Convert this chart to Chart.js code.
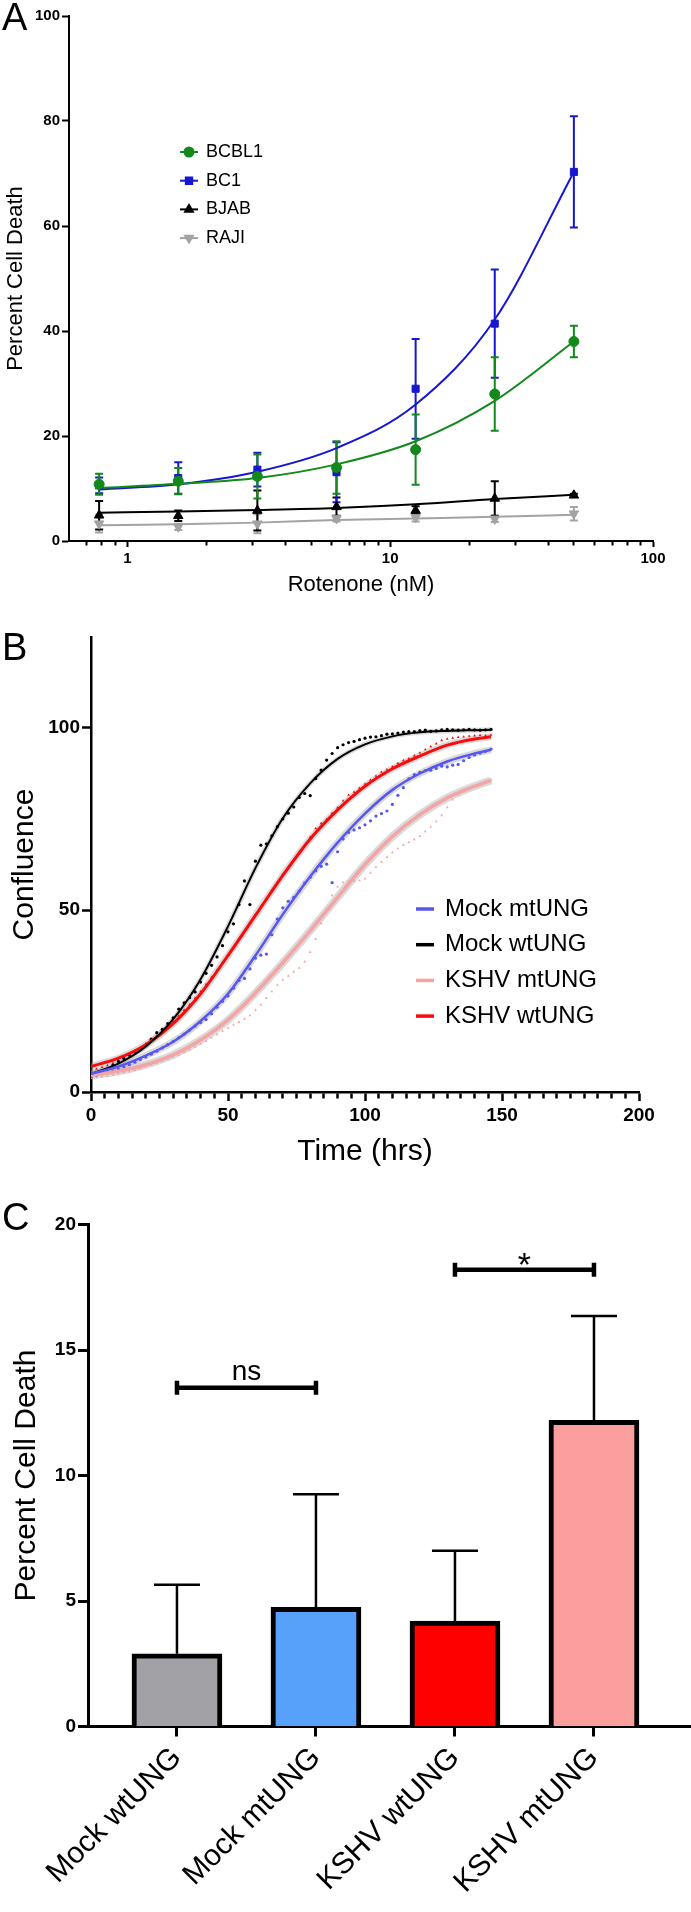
<!DOCTYPE html>
<html>
<head>
<meta charset="utf-8">
<script src="https://cdn.jsdelivr.net/npm/chart.js@4.4.1/dist/chart.umd.min.js"></script>
<style>
  html, body { margin: 0; padding: 0; background: #fff; }
  #page { position: relative; width: 691px; height: 1912px; overflow: hidden; font-family: "Liberation Sans", Arial, sans-serif; }
  canvas { position: absolute; left: 0; }
  .panel-label { position: absolute; left: 2px; font-size: 38px; line-height: 38px; color: #000; }
</style>
</head>
<body>
<div id="page">
  <canvas id="chartA" width="691" height="610" style="top:0"></canvas>
  <canvas id="chartB" width="691" height="570" style="top:610px"></canvas>
  <canvas id="chartC" width="691" height="732" style="top:1180px"></canvas>
  <div class="panel-label" style="top:-2px">A</div>
  <div class="panel-label" style="top:628px">B</div>
  <div class="panel-label" style="top:1198px">C</div>
</div>
<script>
// ---------- Panel A: rotenone dose response ----------
const rotenoneDoses = [0.78125, 1.5625, 3.125, 6.25, 12.5, 25, 50];
const doseTicks = [0.7, 0.8, 0.9, 1, 2, 3, 4, 5, 6, 7, 8, 9, 10, 20, 30, 40, 50, 60, 70, 80, 90, 100];
const doseMajorTicks = [1, 10, 100];

const bcbl1Death = [10.8, 11.4, 12.3, 14.0, 17.4, 28.0, 38.0];
const bcbl1Sd    = [2.0, 2.5, 4.2, 5.0, 6.7, 7.0, 3.0];
const bcbl1Fit   = [10.1, 10.9, 12.0, 14.6, 19.0, 26.7, 38.0];

const bc1Death = [10.6, 12.0, 13.6, 13.1, 29.0, 41.4, 70.3];
const bc1Sd    = [1.5, 3.0, 3.2, 5.7, 9.5, 10.3, 10.6];
const bc1Fit   = [9.8, 10.8, 13.2, 17.7, 26.0, 42.2, 70.3];

const bjabDeath = [4.9, 4.8, 5.8, 6.5, 5.8, 8.1, 8.7];
const bjabSd    = [2.7, 1.0, 3.8, 1.8, 0.8, 3.3, 0.3];
const bjabFit   = [5.4, 5.6, 5.9, 6.3, 7.0, 8.0, 8.8];

const rajiDeath = [3.3, 2.7, 3.3, 4.3, 4.5, 4.2, 5.2];
const rajiSd    = [1.7, 0.6, 1.8, 0.6, 0.8, 0.6, 1.3];
const rajiFit   = [3.0, 3.2, 3.5, 4.0, 4.3, 4.6, 5.0];

// ---------- Panel B: confluence over time ----------
const hours = [0, 2, 4, 6, 8, 10, 12, 14, 16, 18,
  20, 22, 24, 26, 28, 30, 32, 34, 36, 38,
  40, 42, 44, 46, 48, 50, 52, 54, 56, 58,
  60, 62, 64, 66, 68, 70, 72, 74, 76, 78,
  80, 82, 84, 86, 88, 90, 92, 94, 96, 98,
  100, 102, 104, 106, 108, 110, 112, 114, 116, 118,
  120, 122, 124, 126, 128, 130, 132, 134, 136, 138,
  140, 142, 144, 146];

const mockMtDots = [4.3, 4.6, 5.0, 5.3, 5.8, 6.3, 6.9, 7.5, 8.2, 8.9,
  9.6, 10.4, 11.2, 12.1, 13.0, 13.9, 14.9, 15.9, 17.0, 18.1,
  19.1, 19.9, 21.5, 23.3, 24.9, 26.4, 28.5, 30.6, 31.2, 33.8,
  36.8, 37.6, 37.9, 43.2, 47.5, 50.6, 52.4, 53.5, 55.2, 57.4,
  59.0, 60.8, 62.0, 62.6, 57.5, 66.0, 69.5, 71.3, 72.0, 72.6,
  73.4, 74.5, 75.8, 76.5, 77.2, 79.0, 81.5, 83.6, 86.0, 87.2,
  87.8, 88.3, 88.4, 88.9, 89.5, 89.3, 89.8, 90.0, 91.0, 91.9,
  92.6, 93.1, 93.6, 94.2];
const mockWtDots = [4.6, 5.0, 5.6, 6.3, 7.4, 8.4, 9.2, 10.1, 11.0, 11.7,
  12.9, 14.5, 16.3, 17.2, 18.8, 20.4, 22.8, 24.5, 25.9, 27.5,
  30.2, 32.6, 34.8, 37.1, 40.2, 44.0, 46.2, 51.5, 58.0, 51.5,
  63.4, 67.8, 68.2, 70.4, 72.9, 75.0, 76.6, 78.3, 80.9, 82.0,
  81.4, 86.1, 88.4, 91.2, 93.0, 94.6, 95.4, 96.0, 96.3, 96.8,
  97.2, 97.5, 97.6, 97.9, 98.3, 98.4, 98.6, 98.9, 99.0, 99.0,
  99.3, 99.4, 99.1, 99.2, 99.5, 99.6, 99.5, 99.4, 99.5, 99.6,
  99.5, 99.4, 99.5, 99.6];
const kshvMtDots = [3.8, 4.0, 4.2, 4.4, 4.7, 5.0, 5.3, 5.6, 6.0, 6.4,
  6.9, 7.4, 7.9, 8.5, 9.0, 9.6, 10.2, 10.9, 11.6, 12.4,
  13.2, 14.0, 14.9, 15.8, 16.8, 17.6, 18.5, 19.2, 20.1, 21.0,
  22.5, 24.0, 25.8, 27.6, 29.4, 30.8, 31.9, 33.0, 34.1, 35.8,
  38.4, 42.0, 46.3, 50.2, 54.0, 56.4, 57.6, 57.9, 58.0, 58.1,
  58.6, 60.2, 61.8, 63.2, 64.5, 65.8, 66.9, 67.8, 68.6, 69.4,
  70.3, 71.6, 72.8, 74.3, 76.0, 78.2, 80.3, 81.6, 82.5, 83.3,
  84.0, 84.7, 85.3, 85.8];
const kshvWtDots = [6.0, 6.3, 6.8, 7.3, 8.0, 8.7, 9.5, 10.4, 11.3, 12.2,
  13.3, 14.3, 15.4, 16.6, 17.9, 19.4, 20.9, 22.5, 24.0, 25.8,
  27.6, 29.6, 31.6, 33.5, 35.6, 37.6, 39.8, 42.0, 44.2, 46.4,
  48.8, 50.9, 53.1, 55.4, 57.6, 59.8, 61.5, 63.6, 65.5, 67.8,
  70.0, 72.4, 73.8, 74.9, 76.6, 78.1, 80.0, 81.6, 82.4, 83.5,
  84.6, 85.7, 86.8, 87.9, 88.6, 89.4, 90.3, 91.1, 91.6, 92.4,
  93.2, 94.1, 94.9, 95.7, 96.6, 97.0, 97.3, 97.5, 97.6, 97.8,
  97.9, 98.0, 97.9, 98.1];

const fitHours  = [0, 10, 20, 30, 40, 50, 60, 70, 80, 90, 100, 110, 120, 130, 140, 146];
const mockMtFit = [5.0, 7.0, 10.0, 13.8, 19.5, 27.0, 37.5, 48.8, 59.2, 68.5, 76.5, 83.0, 87.5, 90.8, 93.0, 94.0];
const mockWtFit = [5.0, 7.8, 12.5, 20.0, 31.0, 45.5, 61.5, 75.2, 84.8, 91.5, 95.5, 97.7, 98.8, 99.2, 99.4, 99.5];
const kshvMtFit = [4.6, 5.7, 7.5, 10.2, 14.3, 19.8, 27.2, 35.5, 44.3, 53.5, 62.5, 70.2, 76.2, 80.8, 84.0, 85.6];
const kshvWtFit = [7.0, 9.3, 13.0, 18.8, 27.0, 37.5, 48.5, 59.5, 69.5, 77.5, 84.0, 88.8, 92.3, 95.3, 97.0, 97.6];

// ---------- Panel C: cell death per group ----------
const ungGroups = ['Mock wtUNG', 'Mock mtUNG', 'KSHV wtUNG', 'KSHV mtUNG'];
const ungDeath  = [2.9, 4.75, 4.2, 12.2];
const ungSd     = [2.75, 4.5, 2.8, 4.15];
const comparisons = [
  { from: 0, to: 1, level: 13.5, label: 'ns' },
  { from: 2, to: 3, level: 18.2, label: '*' }
];

const FONT = '"Liberation Sans", Arial, sans-serif';
Chart.defaults.font.family = FONT;
Chart.defaults.color = '#000';
Chart.defaults.animation = false;

const pts = (xs, ys) => xs.map((x, i) => ({ x: x, y: ys[i] }));

// keep the chart area where the figure has it
function fixWidth(w) {
  return s => { s.width = w; s.paddingTop = 0; s.paddingBottom = 0; };
}
function fixHeight(h) {
  return s => { s.height = h; s.paddingLeft = 0; s.paddingRight = 0; };
}

// legend drawn inside the plot area
const insideLegend = {
  id: 'insideLegend',
  afterDraw(chart, args, opts) {
    const ctx = chart.ctx;
    const items = chart.data.datasets.filter(d => d.legend);
    ctx.save();
    ctx.font = opts.font;
    ctx.textBaseline = 'middle';
    items.forEach((ds, i) => {
      const y = opts.top + i * opts.rowGap;
      ctx.strokeStyle = ds.legendColor || ds.borderColor;
      ctx.lineWidth = opts.lineWidth;
      ctx.beginPath();
      ctx.moveTo(opts.left, y);
      ctx.lineTo(opts.left + opts.lineLength, y);
      ctx.stroke();
      if (opts.showPoints) {
        ctx.fillStyle = ds.backgroundColor;
        ctx.strokeStyle = ds.borderColor;
        Chart.helpers.drawPoint(ctx, {
          pointStyle: ds.pointStyle, radius: opts.pointRadius,
          rotation: ds.pointRotation || 0, borderWidth: 1
        }, opts.left + opts.lineLength / 2, y);
      }
      ctx.fillStyle = '#000';
      ctx.fillText(ds.label, opts.left + opts.lineLength + opts.gap, y);
    });
    ctx.restore();
  }
};

// ---------- Chart A ----------
const errorBarsA = {
  id: 'errorBarsA',
  beforeDatasetsDraw(chart) {
    const { ctx, scales: { x, y } } = chart;
    chart.data.datasets.slice().reverse().forEach(ds => {
      if (!ds.errors) return;
      ctx.save();
      ctx.strokeStyle = ds.borderColor;
      ctx.lineWidth = 2;
      ds.data.forEach((p, j) => {
        const px = x.getPixelForValue(p.x);
        const top = y.getPixelForValue(p.y + ds.errors[j]);
        const bot = y.getPixelForValue(Math.max(p.y - ds.errors[j], 0));
        ctx.beginPath();
        ctx.moveTo(px, top); ctx.lineTo(px, bot);
        ctx.moveTo(px - 4, top); ctx.lineTo(px + 4, top);
        ctx.moveTo(px - 4, bot); ctx.lineTo(px + 4, bot);
        ctx.stroke();
      });
      ctx.restore();
    });
  }
};

const lineSeries = [
  { name: 'BCBL1', color: '#12891a', style: 'circle', rot: 0, r: 5, vals: bcbl1Death, sd: bcbl1Sd, fit: bcbl1Fit },
  { name: 'BC1', color: '#1717cf', style: 'rect', rot: 0, r: 5, vals: bc1Death, sd: bc1Sd, fit: bc1Fit },
  { name: 'BJAB', color: '#000000', style: 'triangle', rot: 0, r: 5.5, vals: bjabDeath, sd: bjabSd, fit: bjabFit },
  { name: 'RAJI', color: '#a3a3a3', style: 'triangle', rot: 180, r: 5.5, vals: rajiDeath, sd: rajiSd, fit: rajiFit }
];

const datasetsA = [];
lineSeries.forEach(s => {
  datasetsA.push({
    label: s.name, legend: true, order: 1,
    data: pts(rotenoneDoses, s.vals), errors: s.sd,
    pointStyle: s.style, pointRotation: s.rot, pointRadius: s.r,
    backgroundColor: s.color, borderColor: s.color, pointBorderWidth: 1,
    showLine: false
  });
});
lineSeries.forEach(s => {
  datasetsA.push({
    label: s.name + ' fit', order: 2,
    data: pts(rotenoneDoses, s.fit),
    showLine: true, pointRadius: 0, borderWidth: 2,
    borderColor: s.color, backgroundColor: s.color,
    cubicInterpolationMode: 'monotone'
  });
});

new Chart(document.getElementById('chartA'), {
  type: 'scatter',
  data: { datasets: datasetsA },
  options: {
    responsive: false,
    layout: { padding: { left: 0, right: 38, top: 16, bottom: 0 } },
    plugins: {
      legend: { display: false },
      tooltip: { enabled: false },
      insideLegend: { left: 180, top: 152, rowGap: 28.7, lineLength: 18, lineWidth: 2, gap: 8,
        font: '18px ' + FONT, showPoints: true, pointRadius: 4.5 }
    },
    scales: {
      x: {
        type: 'logarithmic', min: 0.6, max: 100,
        afterFit: fixHeight(69),
        afterBuildTicks: s => { s.ticks = doseTicks.map(v => ({ value: v, major: doseMajorTicks.includes(v) })); },
        border: { display: true, color: '#000', width: 2 },
        grid: { drawOnChartArea: false, drawTicks: true, tickLength: 6, tickWidth: 2, tickColor: '#000',
          tickBorderDash: c => (c.tick && c.tick.major) ? [] : [3.5, 40] },
        ticks: { autoSkip: false, maxRotation: 0, padding: 3, font: { size: 15, weight: 'bold' },
          callback: v => doseMajorTicks.includes(v) ? String(v) : '' },
        title: { display: true, text: 'Rotenone (nM)', font: { size: 22 }, padding: { top: 0, bottom: 12 } }
      },
      y: {
        min: 0, max: 100,
        afterFit: fixWidth(69),
        border: { display: true, color: '#000', width: 2 },
        grid: { drawOnChartArea: false, tickLength: 7, tickWidth: 2, tickColor: '#000' },
        ticks: { stepSize: 20, padding: 2, font: { size: 15, weight: 'bold' } },
        title: { display: true, text: 'Percent Cell Death', font: { size: 22 }, padding: { top: 3 } }
      }
    }
  },
  plugins: [errorBarsA, insideLegend]
});

// ---------- Chart B ----------
const growthSeries = [
  { name: 'Mock mtUNG', color: '#5656f4', dotStyle: 'circle', dots: mockMtDots, fit: mockMtFit, fitWidth: 2.5, band: 7 },
  { name: 'Mock wtUNG', color: '#000000', dotStyle: 'circle', dots: mockWtDots, fit: mockWtFit, fitWidth: 2, band: 5 },
  { name: 'KSHV mtUNG', color: '#f4a4a4', dotStyle: 'triangle', dots: kshvMtDots, fit: kshvMtFit, fitWidth: 3.5, band: 8 },
  { name: 'KSHV wtUNG', color: '#fa0a0a', dotStyle: 'triangle', dots: kshvWtDots, fit: kshvWtFit, fitWidth: 3, band: 7 }
];

const datasetsB = [];
growthSeries.forEach(s => {
  datasetsB.push({
    label: s.name, legend: true, legendColor: s.color, order: 1,
    data: pts(fitHours, s.fit), showLine: true, pointRadius: 0,
    borderColor: s.color, borderWidth: s.fitWidth, cubicInterpolationMode: 'monotone'
  });
});
growthSeries.forEach(s => {
  datasetsB.push({
    label: s.name + ' data', order: 2,
    data: pts(hours, s.dots), showLine: false,
    pointStyle: s.dotStyle, pointRadius: 1.6, pointBorderWidth: 0,
    backgroundColor: s.color, borderColor: s.color
  });
});
growthSeries.forEach(s => {
  datasetsB.push({
    label: s.name + ' band', order: 3,
    data: pts(fitHours, s.fit), showLine: true, pointRadius: 0,
    borderColor: 'rgba(150,150,150,0.35)', borderWidth: s.band, cubicInterpolationMode: 'monotone'
  });
});

new Chart(document.getElementById('chartB'), {
  type: 'scatter',
  data: { datasets: datasetsB },
  options: {
    responsive: false,
    layout: { padding: { left: 0, right: 52, top: 27, bottom: 0 } },
    plugins: {
      legend: { display: false },
      tooltip: { enabled: false },
      insideLegend: { left: 416, top: 299, rowGap: 35.7, lineLength: 18, lineWidth: 3.5, gap: 11,
        font: '24px ' + FONT, showPoints: false }
    },
    scales: {
      x: {
        min: 0, max: 200,
        afterFit: fixHeight(88),
        border: { display: true, color: '#000', width: 2.5 },
        grid: { drawOnChartArea: false, tickLength: 9, tickWidth: 2.5, tickColor: '#000',
          tickBorderDash: c => (c.tick && c.tick.value % 50 === 0) ? [] : [5, 40] },
        ticks: { stepSize: 5, autoSkip: false, maxRotation: 0, padding: 3, font: { size: 19, weight: 'bold' },
          callback: v => v % 50 === 0 ? String(v) : '' },
        title: { display: true, text: 'Time (hrs)', font: { size: 30 }, padding: { top: 0, bottom: 10 } }
      },
      y: {
        min: 0, max: 125,
        afterFit: fixWidth(91),
        afterBuildTicks: s => { s.ticks = s.ticks.filter(t => t.value % 50 === 0); },
        border: { display: true, color: '#000', width: 2.5 },
        grid: { drawOnChartArea: false, tickLength: 9, tickWidth: 2.5, tickColor: '#000' },
        ticks: { stepSize: 50, padding: 2, font: { size: 19, weight: 'bold' } },
        title: { display: true, text: 'Confluence', font: { size: 30 }, padding: { top: 7 } }
      }
    }
  },
  plugins: [insideLegend]
});

// ---------- Chart C ----------
const errorBarsC = {
  id: 'errorBarsC',
  beforeDatasetsDraw(chart) {
    const { ctx, scales: { x, y } } = chart;
    ctx.save();
    ctx.strokeStyle = '#000';
    ctx.lineWidth = 2.5;
    ungDeath.forEach((v, i) => {
      const px = x.getPixelForValue(i);
      const top = y.getPixelForValue(v + ungSd[i]);
      ctx.beginPath();
      ctx.moveTo(px, y.getPixelForValue(v)); ctx.lineTo(px, top);
      ctx.moveTo(px - 23, top); ctx.lineTo(px + 23, top);
      ctx.stroke();
    });
    ctx.restore();
  }
};

const bracketsC = {
  id: 'bracketsC',
  afterDatasetsDraw(chart, args, opts) {
    const { ctx, scales: { x, y } } = chart;
    ctx.save();
    ctx.strokeStyle = '#000';
    ctx.fillStyle = '#000';
    ctx.lineWidth = 4.5;
    ctx.textAlign = 'center';
    ctx.textBaseline = 'alphabetic';
    comparisons.forEach((c, k) => {
      const x1 = x.getPixelForValue(c.from);
      const x2 = x.getPixelForValue(c.to);
      const yy = y.getPixelForValue(c.level);
      ctx.beginPath();
      ctx.moveTo(x1, yy); ctx.lineTo(x2, yy);
      ctx.moveTo(x1, yy - 7); ctx.lineTo(x1, yy + 7);
      ctx.moveTo(x2, yy - 7); ctx.lineTo(x2, yy + 7);
      ctx.stroke();
      ctx.font = opts.fonts[k];
      ctx.fillText(c.label, (x1 + x2) / 2, yy + opts.textOffsets[k]);
    });
    ctx.restore();
  }
};

new Chart(document.getElementById('chartC'), {
  type: 'bar',
  data: {
    datasets: [{
      label: 'Percent Cell Death',
      data: pts(ungGroups.map((g, i) => i), ungDeath),
      backgroundColor: ['#a2a1a6', '#57a1fb', '#fe0000', '#fc9e9e'],
      borderColor: '#000',
      borderWidth: 5,
      barThickness: 90
    }]
  },
  options: {
    responsive: false,
    layout: { padding: { left: 0, right: 0, top: 44.5, bottom: 0 } },
    plugins: {
      legend: { display: false },
      tooltip: { enabled: false },
      bracketsC: { fonts: ['28px ' + FONT, '34px ' + FONT], textOffsets: [-8, 6] }
    },
    scales: {
      x: {
        type: 'linear', min: -0.64, max: 3.698, offset: false,
        afterFit: fixHeight(185.5),
        afterBuildTicks: s => { s.ticks = ungGroups.map((g, i) => ({ value: i })); },
        border: { display: true, color: '#000', width: 3 },
        grid: { offset: false, drawOnChartArea: false, tickLength: 10, tickWidth: 3, tickColor: '#000' },
        ticks: { autoSkip: false, minRotation: 45, maxRotation: 45, padding: 4, font: { size: 30 },
          callback: v => ungGroups[v] }
      },
      y: {
        min: 0, max: 20,
        afterFit: fixWidth(88),
        border: { display: true, color: '#000', width: 3 },
        grid: { drawOnChartArea: false, tickLength: 10, tickWidth: 3, tickColor: '#000' },
        ticks: { stepSize: 5, padding: 2, font: { size: 19, weight: 'bold' } },
        title: { display: true, text: 'Percent Cell Death', font: { size: 30 }, padding: { top: 9 } }
      }
    }
  },
  plugins: [errorBarsC, bracketsC]
});
</script>
</body>
</html>
